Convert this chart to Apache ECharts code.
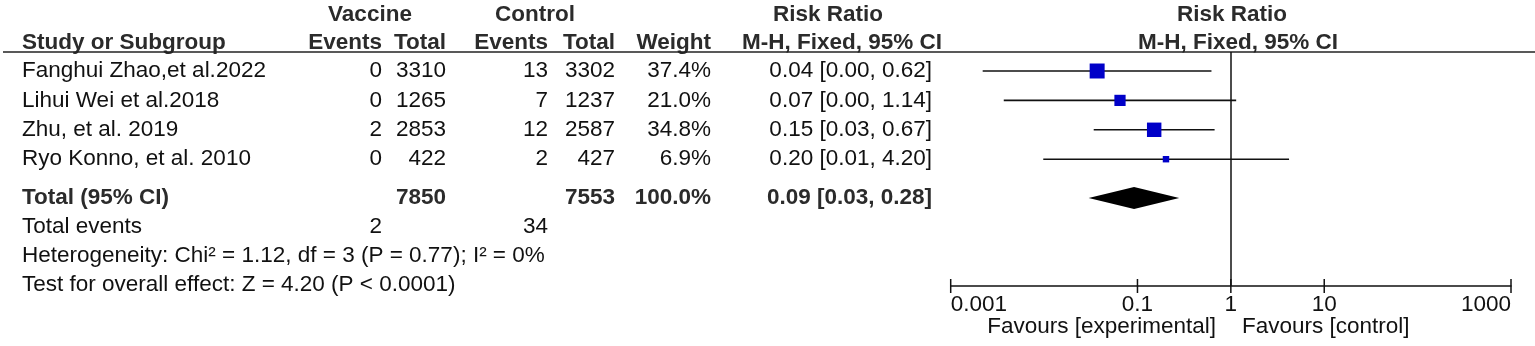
<!DOCTYPE html>
<html><head><meta charset="utf-8">
<script src="https://cdn.jsdelivr.net/npm/echarts@6/dist/echarts.min.js"></script>
<style>html,body{margin:0;padding:0;background:#fff}#c{width:1535px;height:346px}</style>
</head><body><div id="c"></div>
<script>
// ---- data ----
const studies = ["Fanghui Zhao,et al.2022", "Lihui Wei et al.2018", "Zhu, et al. 2019", "Ryo Konno, et al. 2010"];
const vaccineEvents = [0, 0, 2, 0];
const vaccineTotal = [3310, 1265, 2853, 422];
const controlEvents = [13, 7, 12, 2];
const controlTotal = [3302, 1237, 2587, 427];
const weightPct = [37.4, 21.0, 34.8, 6.9];
const riskRatio = [0.037, 0.065, 0.151, 0.202];
const ciLow = [0.0022, 0.0037, 0.034, 0.0098];
const ciHigh = [0.62, 1.14, 0.67, 4.20];
const ciText = ["0.04 [0.00, 0.62]", "0.07 [0.00, 1.14]", "0.15 [0.03, 0.67]", "0.20 [0.01, 4.20]"];
const totalLabels = ["Total (95% CI)", "7850", "7553", "100.0%", "0.09 [0.03, 0.28]"];
const pooledRR = [0.092];
const pooledLow = [0.030];
const pooledHigh = [0.28];
const totalEvents = [2, 34];
const heterogeneityText = "Heterogeneity: Chi² = 1.12, df = 3 (P = 0.77); I² = 0%";
const overallText = "Test for overall effect: Z = 4.20 (P < 0.0001)";
const tickValues = [0.001, 0.1, 1, 10, 1000];
const tickLabels = ["0.001", "0.1", "1", "10", "1000"];
const favours = ["Favours [experimental]", "Favours [control]"];

// ---- layout ----
const FONT = "'Liberation Sans', Arial, sans-serif";
const FS = 22.5;
const ROW0 = 71, PITCH = 29.4;
const GRID_TOP = 52, AXIS_Y = 286;
const yMin = (GRID_TOP - ROW0) / PITCH, yMax = (AXIS_Y - ROW0) / PITCH;
const TOTAL_ROW = (198 - ROW0) / PITCH;
const rowY = i => ROW0 + PITCH * i;
const X = { name: 22, vE: 382, vT: 446, cE: 548, cT: 615, w: 711, ci: 932 };

function txt(text, x, y, align, bold) {
  return { type: 'text', x: x, y: y, silent: true,
    style: { text: String(text), fontFamily: FONT, fontSize: FS, fontWeight: bold ? 'bold' : 'normal',
      fill: bold ? '#2b2b2b' : '#111', align: align, verticalAlign: 'middle' } };
}
const g = [];
// headers
g.push(txt('Vaccine', 370, 15, 'center', true));
g.push(txt('Control', 535, 15, 'center', true));
g.push(txt('Risk Ratio', 828, 15, 'center', true));
g.push(txt('Risk Ratio', 1232, 15, 'center', true));
g.push(txt('Study or Subgroup', X.name, 43, 'left', true));
g.push(txt('Events', X.vE, 43, 'right', true));
g.push(txt('Total', X.vT, 43, 'right', true));
g.push(txt('Events', X.cE, 43, 'right', true));
g.push(txt('Total', X.cT, 43, 'right', true));
g.push(txt('Weight', X.w, 43, 'right', true));
g.push(txt('M-H, Fixed, 95% CI', 842, 43, 'center', true));
g.push(txt('M-H, Fixed, 95% CI', 1238, 43, 'center', true));
g.push({ type: 'line', silent: true, shape: { x1: 3, y1: GRID_TOP, x2: 1535, y2: GRID_TOP }, style: { stroke: '#222', lineWidth: 1.5 } });
// study rows
studies.forEach((s, i) => {
  const y = rowY(i);
  g.push(txt(s, X.name, y, 'left'));
  g.push(txt(vaccineEvents[i], X.vE, y, 'right'));
  g.push(txt(vaccineTotal[i], X.vT, y, 'right'));
  g.push(txt(controlEvents[i], X.cE, y, 'right'));
  g.push(txt(controlTotal[i], X.cT, y, 'right'));
  g.push(txt(weightPct[i].toFixed(1) + '%', X.w, y, 'right'));
  g.push(txt(ciText[i], X.ci, y, 'right'));
});
// total rows
const yT = rowY(TOTAL_ROW);
g.push(txt(totalLabels[0], X.name, yT, 'left', true));
g.push(txt(totalLabels[1], X.vT, yT, 'right', true));
g.push(txt(totalLabels[2], X.cT, yT, 'right', true));
g.push(txt(totalLabels[3], X.w, yT, 'right', true));
g.push(txt(totalLabels[4], X.ci, yT, 'right', true));
g.push(txt('Total events', X.name, 227, 'left'));
g.push(txt(totalEvents[0], X.vE, 227, 'right'));
g.push(txt(totalEvents[1], X.cE, 227, 'right'));
g.push(txt(heterogeneityText, X.name, 256, 'left'));
g.push(txt(overallText, X.name, 285, 'left'));
g.push(txt(favours[0], 1216, 327, 'right'));
g.push(txt(favours[1], 1242, 327, 'left'));

const studyData = studies.map((s, i) => [riskRatio[i], i, ciLow[i], ciHigh[i], weightPct[i]]);
const pooledData = pooledRR.map((v, i) => [v, TOTAL_ROW, pooledLow[i], pooledHigh[i]]);
const tickData = tickValues.map(v => [v, yMax]);

const chart = echarts.init(document.getElementById('c'), null, { renderer: 'canvas' });
chart.setOption({
  animation: false,
  backgroundColor: '#fff',
  grid: { left: 950.7, right: 24, top: GRID_TOP, bottom: 346 - AXIS_Y, containLabel: false, outerBoundsMode: 'none' },
  xAxis: {
    type: 'log', logBase: 10, min: 0.001, max: 1000,
    axisLine: { show: true, onZero: false, lineStyle: { color: '#111', width: 1.5 } },
    axisTick: { show: false },
    splitLine: { show: false },
    axisLabel: {
      customValues: tickValues, margin: 7, fontFamily: FONT, fontSize: FS, color: '#111',
      alignMinLabel: 'left', alignMaxLabel: 'right',
      formatter: v => { let best = 0; tickValues.forEach((t, k) => { if (Math.abs(Math.log10(t) - Math.log10(v)) < Math.abs(Math.log10(tickValues[best]) - Math.log10(v))) best = k; }); return tickLabels[best]; }
    }
  },
  yAxis: { type: 'value', inverse: true, min: yMin, max: yMax, show: false },
  graphic: g,
  series: [
    {
      type: 'custom', data: studyData, encode: { x: 0, y: 1 }, z: 3,
      renderItem: (params, api) => {
        const p = api.coord([api.value(0), api.value(1)]);
        const lo = api.coord([api.value(2), api.value(1)]);
        const hi = api.coord([api.value(3), api.value(1)]);
        const s = 2.45 * Math.sqrt(api.value(4));
        return { type: 'group', children: [
          { type: 'line', shape: { x1: lo[0], y1: p[1], x2: hi[0], y2: p[1] }, style: { stroke: '#111', lineWidth: 1.6 } },
          { type: 'rect', shape: { x: p[0] - s / 2, y: p[1] - s / 2, width: s, height: s }, style: { fill: '#0000c8' } }
        ] };
      },
      markLine: { silent: true, symbol: ['none', 'none'], label: { show: false },
        lineStyle: { color: '#111', width: 1.5, type: 'solid' }, data: [{ xAxis: 1 }] }
    },
    {
      type: 'custom', data: pooledData, encode: { x: 0, y: 1 }, z: 3,
      renderItem: (params, api) => {
        const p = api.coord([api.value(0), api.value(1)]);
        const lo = api.coord([api.value(2), api.value(1)]);
        const hi = api.coord([api.value(3), api.value(1)]);
        const h = 11;
        return { type: 'polygon', shape: { points: [[lo[0], p[1]], [p[0], p[1] - h], [hi[0], p[1]], [p[0], p[1] + h]] }, style: { fill: '#000' } };
      }
    },
    {
      type: 'custom', data: tickData, encode: { x: 0, y: 1 }, z: 4,
      renderItem: (params, api) => {
        const p = api.coord([api.value(0), api.value(1)]);
        return { type: 'line', shape: { x1: p[0], y1: p[1] - 7, x2: p[0], y2: p[1] + 7 }, style: { stroke: '#111', lineWidth: 1.5 } };
      }
    }
  ]
});
</script>
</body></html>
